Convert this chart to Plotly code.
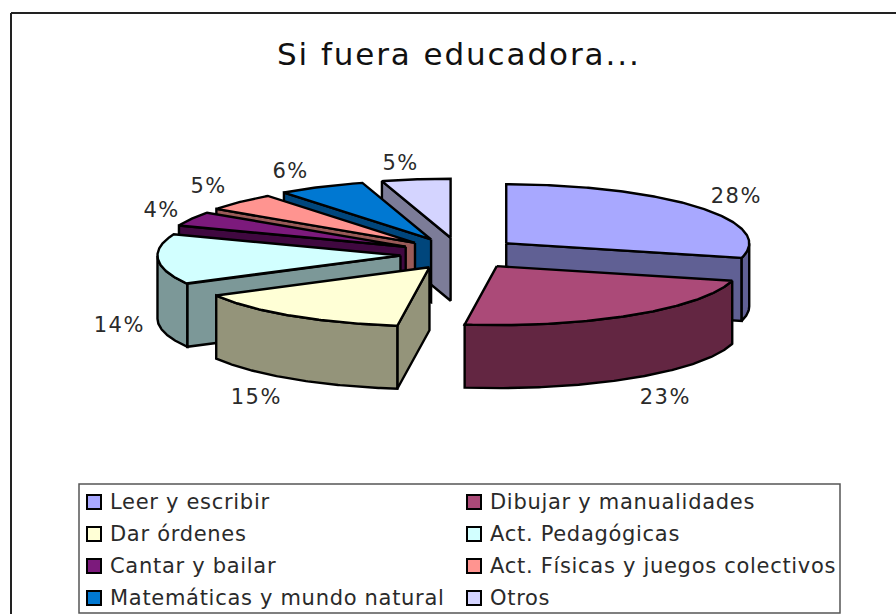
import math
import plotly.graph_objects as go

# ---- data ----
categories = ["Leer y escribir", "Dibujar y manualidades", "Dar órdenes", "Act. Pedagógicas",
              "Cantar y bailar", "Act. Físicas y juegos colectivos",
              "Matemáticas y mundo natural", "Otros"]
percent = [28, 23, 15, 14, 4, 5, 6, 5]
title_text = "Si fuera educadora..."

# ---- styles ----
top_colors = ["#A8A8FF", "#AB4A78", "#FFFFD6", "#D2FFFF", "#7C1A7C", "#FF9490", "#0078D2", "#D4D4FF"]
side_colors = ["#606094", "#632642", "#94947A", "#7C9898", "#400840", "#9A5A58", "#00467C", "#7C7C98"]
label_xy = [(736, 196), (665, 397), (256, 397), (119, 325), (161, 210), (208, 186), (290, 171), (400, 163)]
draw_order = [0, 7, 6, 5, 4, 3, 2, 1]
CX, CY, EX, EY, RX, RY, DEPTH = 460, 253.5, 60, 16, 243, 59, 63
INK = "#000000"
TEXT = "#2a2a2a"
FONT = "DejaVu Sans"


def warp(t):
    return t + 4.0 * math.sqrt(abs(math.sin(math.radians(t) / 2)))


def rim(ax, ay, t, drop=0.0):
    s = math.radians(warp(t))
    return ax + RX * math.sin(s), ay - RY * math.cos(s) + drop


def poly(fig, pts, color, name):
    xs = [p[0] for p in pts] + [pts[0][0]]
    ys = [p[1] for p in pts] + [pts[0][1]]
    fig.add_trace(go.Scatter(x=xs, y=ys, mode="lines", fill="toself", fillcolor=color,
                             line=dict(color=INK, width=2.4), name=name,
                             showlegend=False, hoverinfo="name"))


fig = go.Figure()
total = sum(percent)
starts, acc = [], 0.0
for v in percent:
    starts.append(acc)
    acc += v * 360.0 / total

for i in draw_order:
    a = starts[i]
    b = a + percent[i] * 360.0 / total
    m = math.radians((a + b) / 2)
    ax = CX + EX * math.sin(m)
    ay = CY - EY * math.cos(m)
    name = categories[i]
    n = max(int(b - a), 4) * 2
    ts = [a + (b - a) * k / n for k in range(n + 1)]
    # cut faces turned towards the viewer
    if 180 <= a <= 360:
        p = rim(ax, ay, a)
        poly(fig, [(ax, ay), p, (p[0], p[1] + DEPTH), (ax, ay + DEPTH)], side_colors[i], name)
    if 0 <= b <= 180:
        p = rim(ax, ay, b)
        poly(fig, [(ax, ay), p, (p[0], p[1] + DEPTH), (ax, ay + DEPTH)], side_colors[i], name)
    # outer wall: only the front half of the rim
    front = [t for t in ts if 90 <= warp(t) <= 270]
    if len(front) >= 2:
        upper = [rim(ax, ay, t) for t in front]
        lower = [rim(ax, ay, t, DEPTH) for t in reversed(front)]
        poly(fig, upper + lower, side_colors[i], name)
    # top face
    poly(fig, [(ax, ay)] + [rim(ax, ay, t) for t in ts], top_colors[i], name)

shapes = [
    dict(type="line", xref="x", yref="y", x0=11, x1=896, y0=13, y1=13, line=dict(color="#222222", width=2)),
    dict(type="line", xref="x", yref="y", x0=11, x1=11, y0=13, y1=614, line=dict(color="#222222", width=2)),
    dict(type="rect", xref="x", yref="y", x0=79, x1=840, y0=484, y1=613, line=dict(color="#555555", width=1.5)),
]
annotations = [dict(x=459, y=54, xref="x", yref="y", text=title_text, showarrow=False,
                    font=dict(family=FONT, size=31, color="#111111"))]
for (x, y), v in zip(label_xy, percent):
    annotations.append(dict(x=x, y=y, xref="x", yref="y", text=f"{v}%", showarrow=False,
                            font=dict(family=FONT, size=21, color=TEXT)))
for i, name in enumerate(categories):
    col, row = i % 2, i // 2
    sx = 87 if col == 0 else 467
    sy = 502 + row * 32
    shapes.append(dict(type="rect", xref="x", yref="y", x0=sx, x1=sx + 14, y0=sy - 7, y1=sy + 7,
                       fillcolor=top_colors[i], line=dict(color="#000000", width=2)))
    annotations.append(dict(x=sx + 21, y=sy, xref="x", yref="y", text=name, showarrow=False,
                            xanchor="left", align="left",
                            font=dict(family=FONT, size=21, color=TEXT)))

fig.update_layout(
    width=896, height=614, margin=dict(l=0, r=0, t=0, b=0),
    paper_bgcolor="white", plot_bgcolor="white", showlegend=False,
    xaxis=dict(range=[0, 896], visible=False, fixedrange=True),
    yaxis=dict(range=[614, 0], visible=False, fixedrange=True),
    shapes=shapes, annotations=annotations,
)
post = """
document.body.style.margin = '0';
document.documentElement.style.overflow = 'hidden';
document.querySelectorAll('.annotation-text').forEach(function (t) {
  var s = parseFloat(t.style.fontSize);
  t.style.letterSpacing = (s >= 28 ? 1.9 : (t.textContent.indexOf('%') >= 0 ? 1.5 : 0.7)) + 'px';
});
"""
fig.write_html("out.html", config=dict(displayModeBar=False), post_script=post)
